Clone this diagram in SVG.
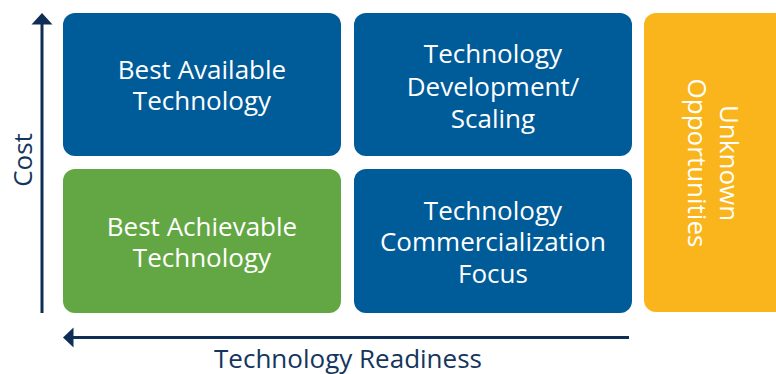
<svg xmlns="http://www.w3.org/2000/svg" width="776" height="374" viewBox="0 0 776 374">
  <style>
    .box-blue { fill: #005B99; }
    .box-green { fill: #63A744; }
    .box-orange { fill: #F9B51B; }
    .lbl { font-family: "Open Sans", "Liberation Sans", sans-serif; font-size: 26px; fill: #ffffff; text-anchor: middle; }
    .axis-lbl { font-family: "Open Sans", "Liberation Sans", sans-serif; font-size: 26px; fill: #14365C; text-anchor: middle; }
    .axis { stroke: #0E2E55; stroke-width: 3; fill: none; }
    .head { fill: #0E2E55; }
  </style>

  <!-- axes -->
  <g id="connectors">
    <line class="axis" x1="42" y1="23" x2="42" y2="313"/>
    <polygon class="head" points="42,13 52.5,24.5 31.5,24.5"/>
    <line class="axis" x1="72" y1="337.5" x2="629" y2="337.5"/>
    <polygon class="head" points="63,337.5 73.5,327.5 73.5,347.5"/>
  </g>

  <g id="cost-label">
    <text class="axis-lbl" transform="translate(32,160) rotate(-90)">Cost</text>
  </g>
  <g id="readiness-label">
    <text class="axis-lbl" x="348" y="368">Technology Readiness</text>
  </g>

  <g id="best-available">
    <rect class="box-blue" x="63" y="13" width="278" height="143" rx="12"/>
    <text class="lbl" x="202" y="79">Best Available</text>
    <text class="lbl" x="202" y="110">Technology</text>
  </g>

  <g id="development-scaling">
    <rect class="box-blue" x="354" y="13" width="278" height="143" rx="12"/>
    <text class="lbl" x="493" y="63">Technology</text>
    <text class="lbl" x="493" y="96">Development/</text>
    <text class="lbl" x="493" y="128">Scaling</text>
  </g>

  <g id="best-achievable">
    <rect class="box-green" x="63" y="169" width="278" height="144" rx="12"/>
    <text class="lbl" x="202" y="236">Best Achievable</text>
    <text class="lbl" x="202" y="267">Technology</text>
  </g>

  <g id="commercialization">
    <rect class="box-blue" x="354" y="169" width="278" height="144" rx="12"/>
    <text class="lbl" x="493" y="220">Technology</text>
    <text class="lbl" x="493" y="251">Commercialization</text>
    <text class="lbl" x="493" y="283">Focus</text>
  </g>

  <g id="unknown-opportunities">
    <rect class="box-orange" x="644" y="13" width="150" height="299" rx="12"/>
    <text class="lbl" transform="translate(720,163) rotate(90)">Unknown</text>
    <text class="lbl" transform="translate(688,163) rotate(90)">Opportunities</text>
  </g>
</svg>
